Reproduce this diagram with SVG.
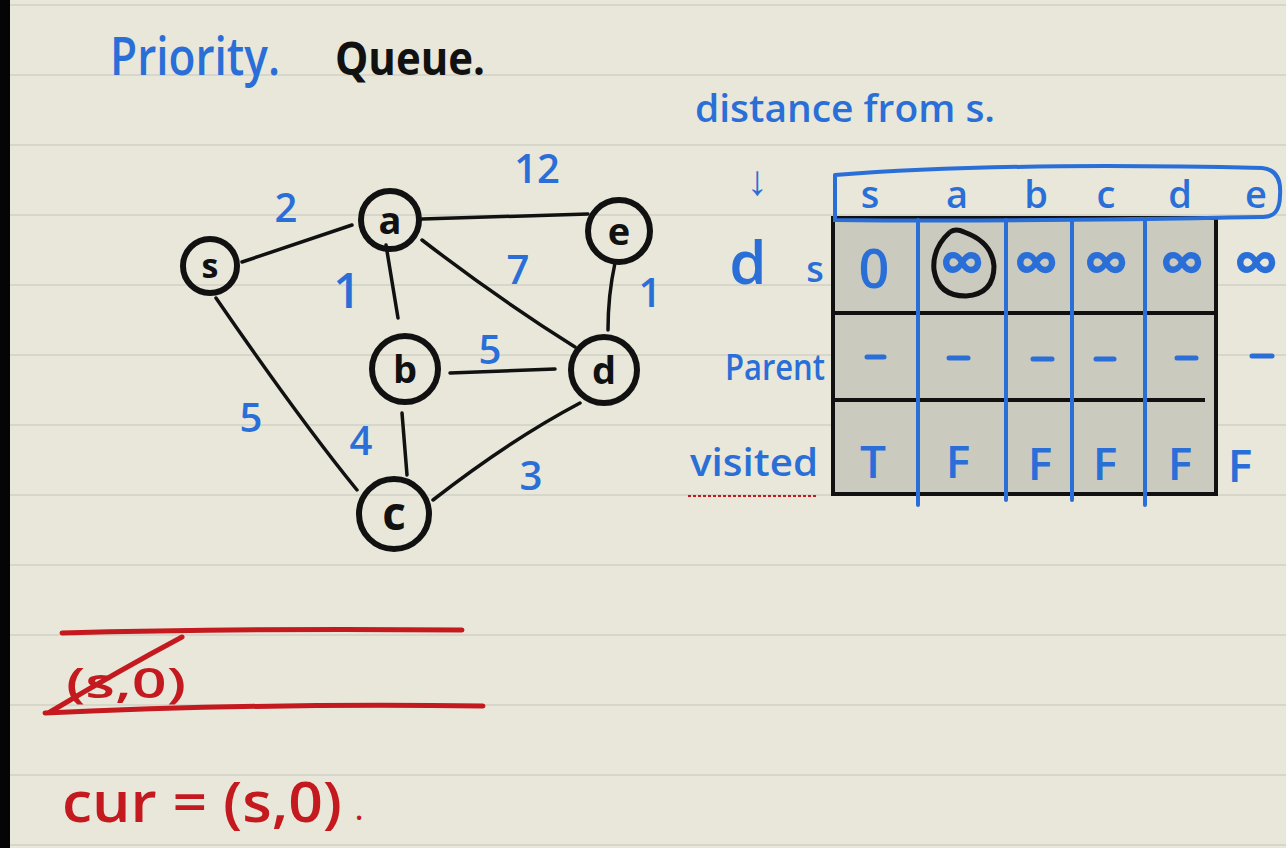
<svg xmlns="http://www.w3.org/2000/svg" width="1286" height="848" viewBox="0 0 1286 848">
<style>
.bg{fill:#e8e7da}
.rule{stroke:#d2d1c4;stroke-width:1.5}
.blue{fill:#2a6fd8;font-family:"Open Sans","Liberation Sans",sans-serif;font-weight:600}
.red{fill:#c41a1f;font-family:"Open Sans","Liberation Sans",sans-serif;font-weight:600}
.blk{fill:#111;font-family:"Open Sans","Liberation Sans",sans-serif;font-weight:700}
.node{fill:none;stroke:#111;stroke-width:6}
.ntext{fill:#111;font-family:"Open Sans","Liberation Sans",sans-serif;font-weight:700;font-size:38px;text-anchor:middle}
.edge{fill:none;stroke:#111;stroke-width:3.5;stroke-linecap:round}
.w{font-size:40px;text-anchor:middle}
.cell{font-size:38px;text-anchor:middle}
.tf{font-size:46px;text-anchor:middle}
.inf{font-size:64px;text-anchor:middle;font-weight:700}
.dash{stroke:#2a6fd8;stroke-width:5;stroke-linecap:round}
.bline{stroke:#2a6fd8;stroke-width:4;stroke-linecap:round;fill:none}
.rline{stroke:#c41a1f;stroke-width:5;stroke-linecap:round;fill:none}
</style>
<rect class="bg" x="0" y="0" width="1286" height="848"/>
<g id="ruled">
<line class="rule" x1="10" y1="5" x2="1286" y2="5"/>
<line class="rule" x1="10" y1="75" x2="1286" y2="75"/>
<line class="rule" x1="10" y1="145" x2="1286" y2="145"/>
<line class="rule" x1="10" y1="215" x2="1286" y2="215"/>
<line class="rule" x1="10" y1="285" x2="1286" y2="285"/>
<line class="rule" x1="10" y1="355" x2="1286" y2="355"/>
<line class="rule" x1="10" y1="425" x2="1286" y2="425"/>
<line class="rule" x1="10" y1="495" x2="1286" y2="495"/>
<line class="rule" x1="10" y1="565" x2="1286" y2="565"/>
<line class="rule" x1="10" y1="635" x2="1286" y2="635"/>
<line class="rule" x1="10" y1="705" x2="1286" y2="705"/>
<line class="rule" x1="10" y1="775" x2="1286" y2="775"/>
<line class="rule" x1="10" y1="845" x2="1286" y2="845"/>
</g>
<rect x="0" y="0" width="10" height="848" fill="#050505"/>

<text class="blue" x="110" y="75" font-size="52" textLength="170" lengthAdjust="spacingAndGlyphs">Priority.</text>
<text class="blk" x="335" y="75" font-size="46" textLength="150" lengthAdjust="spacingAndGlyphs">Queue.</text>

<g id="connectors">
<path class="edge" d="M242,262 L352,225"/>
<path class="edge" d="M422,219 L588,214"/>
<path class="edge" d="M386,245 L398,318"/>
<path class="edge" d="M422,240 Q500,300 575,347"/>
<path class="edge" d="M615,263 Q608,295 608,330"/>
<path class="edge" d="M450,373 L555,369"/>
<path class="edge" d="M216,298 Q300,420 357,490"/>
<path class="edge" d="M402,413 L407,475"/>
<path class="edge" d="M433,500 Q510,440 580,403"/>
</g>

<g id="edge-labels">
<text class="blue w" x="286" y="222">2</text>
<text class="blue w" x="537" y="183">12</text>
<text class="blue w" x="347" y="308" style="font-size:48px">1</text>
<text class="blue w" x="518" y="284">7</text>
<text class="blue w" x="650" y="307">1</text>
<text class="blue w" x="490" y="364">5</text>
<text class="blue w" x="251" y="432">5</text>
<text class="blue w" x="361" y="455">4</text>
<text class="blue w" x="531" y="490">3</text>
</g>

<g id="node-s"><circle class="node" cx="210" cy="266" r="27"/><text class="ntext" x="210" y="278" style="font-size:34px">s</text></g>
<g id="node-a"><circle class="node" cx="390" cy="220" r="29"/><text class="ntext" x="390" y="234">a</text></g>
<g id="node-e"><circle class="node" cx="619" cy="231" r="31"/><text class="ntext" x="619" y="245">e</text></g>
<g id="node-b"><circle class="node" cx="405" cy="369" r="33"/><text class="ntext" x="405" y="383">b</text></g>
<g id="node-d"><circle class="node" cx="604" cy="370" r="33"/><text class="ntext" x="604" y="384">d</text></g>
<g id="node-c"><circle class="node" cx="394" cy="514" r="35"/><text class="ntext" x="394" y="530" style="font-size:46px">c</text></g>

<g id="table">
<text class="blue" x="695" y="122" font-size="38" textLength="300" lengthAdjust="spacingAndGlyphs">distance from s.</text>
<text class="blue" x="757" y="195" font-size="42" text-anchor="middle">↓</text>
<rect x="833" y="218" width="383" height="276" fill="#cbcabe" stroke="#111" stroke-width="4"/>
<line x1="833" y1="313" x2="1216" y2="313" stroke="#111" stroke-width="4"/>
<line x1="833" y1="400" x2="1205" y2="400" stroke="#111" stroke-width="4"/>
<line class="bline" x1="918" y1="220" x2="918" y2="505"/>
<line class="bline" x1="1006" y1="220" x2="1006" y2="500"/>
<line class="bline" x1="1072" y1="220" x2="1072" y2="500"/>
<line class="bline" x1="1145" y1="220" x2="1145" y2="505"/>
<path class="bline" d="M835,175 Q1000,162 1262,168 Q1282,170 1280,195 Q1280,218 1262,217 Q1000,222 835,220 L835,175"/>
<text class="blue cell" x="870" y="208">s</text>
<text class="blue cell" x="957" y="208">a</text>
<text class="blue cell" x="1036" y="208">b</text>
<text class="blue cell" x="1106" y="208">c</text>
<text class="blue cell" x="1180" y="208">d</text>
<text class="blue cell" x="1256" y="208">e</text>
<text class="blue" x="748" y="284" font-size="60" font-weight="700" text-anchor="middle">d</text>
<text class="blue" x="815" y="282" font-size="36" text-anchor="middle">s</text>
<text class="blue" x="725" y="380" font-size="36" textLength="100" lengthAdjust="spacingAndGlyphs">Parent</text>
<text class="blue" x="690" y="476" font-size="38" textLength="128" lengthAdjust="spacingAndGlyphs">visited</text>
<line x1="688" y1="496" x2="818" y2="496" stroke="#c41a1f" stroke-width="2" stroke-dasharray="3,2"/>
<text class="blue cell" x="874" y="288" style="font-size:54px">0</text>
<text class="blue inf" x="962" y="285">∞</text>
<text class="blue inf" x="1036" y="285">∞</text>
<text class="blue inf" x="1106" y="285">∞</text>
<text class="blue inf" x="1182" y="285">∞</text>
<text class="blue inf" x="1256" y="285">∞</text>
<path d="M950,232 Q932,248 934,270 Q938,296 966,296 Q994,294 994,266 Q992,242 964,232 Q956,228 950,232" fill="none" stroke="#111" stroke-width="5"/>
<line class="dash" x1="867" y1="357" x2="884" y2="357"/>
<line class="dash" x1="949" y1="358" x2="968" y2="358"/>
<line class="dash" x1="1033" y1="359" x2="1052" y2="359"/>
<line class="dash" x1="1096" y1="359" x2="1114" y2="359"/>
<line class="dash" x1="1177" y1="358" x2="1196" y2="358"/>
<line class="dash" x1="1252" y1="356" x2="1272" y2="356"/>
<text class="blue tf" x="873" y="478">T</text>
<text class="blue tf" x="958" y="478">F</text>
<text class="blue tf" x="1040" y="480">F</text>
<text class="blue tf" x="1105" y="480">F</text>
<text class="blue tf" x="1180" y="480">F</text>
<text class="blue tf" x="1240" y="482">F</text>
</g>

<g id="queue">
<path class="rline" d="M62,633 Q250,628 462,630"/>
<path class="rline" d="M45,713 Q260,703 483,706"/>
<text class="red" x="66" y="698" font-size="42" textLength="120" lengthAdjust="spacingAndGlyphs">(s,0)</text>
<path class="rline" d="M50,712 Q120,670 182,637"/>
<text class="red" x="62" y="822" font-size="56" textLength="280" lengthAdjust="spacingAndGlyphs">cur = (s,0)</text>
<text class="red" x="355" y="820" font-size="30">.</text>
</g>
</svg>
